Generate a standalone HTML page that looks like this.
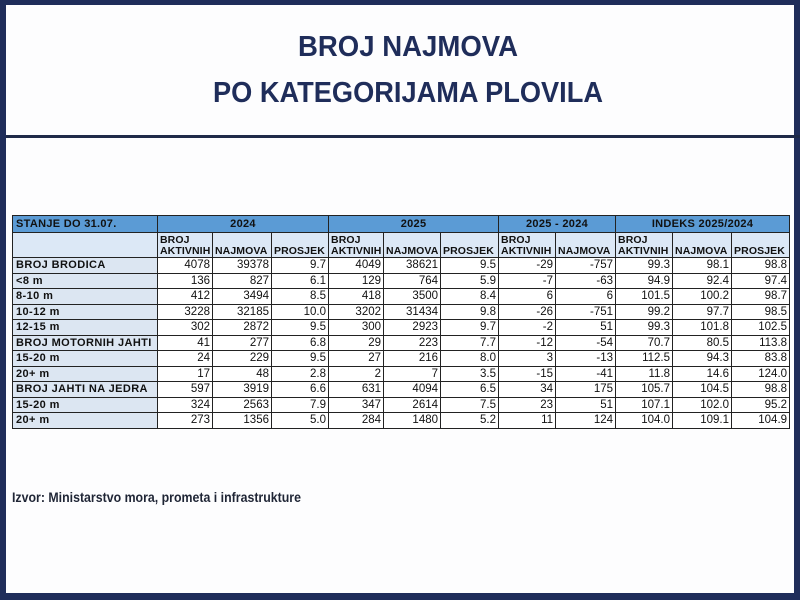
<!DOCTYPE html>
<html><head><meta charset="utf-8"><style>
html,body{margin:0;padding:0;width:800px;height:600px;overflow:hidden;background:#1f2d5a;}
#pg{position:absolute;left:6px;top:5px;width:788px;height:588px;background:#fdfdfe;}
#line{position:absolute;left:6px;top:135px;width:794px;height:3px;background:#1f2a48;}
svg{position:absolute;left:0;top:0}
table{position:absolute;left:12px;top:215px;width:777px;border-collapse:collapse;table-layout:fixed;font-family:"Liberation Sans",Arial,sans-serif;font-size:11.5px;color:#111;}
td{border:1px solid #222;padding:0 2px;white-space:nowrap;overflow:hidden;text-align:right;line-height:12px}
tr.h td{background:#5b9bd5;font-weight:bold;text-align:center;height:16px;font-size:11px;letter-spacing:0.3px}
tr.h td.l{text-align:left;padding-left:3px}
tr.s td{background:#dce8f6;font-weight:bold;text-align:left;vertical-align:bottom;font-size:10.5px;line-height:11px;height:24px;letter-spacing:0.1px}
tr.d td{height:14.5px;background:#fff}
tr.d td:first-child{background:#dce6f2;text-align:left;font-weight:bold;font-size:11px;letter-spacing:0.4px;padding-left:3px}
</style></head><body>
<div id="pg"></div>
<div id="line"></div>
<svg width="800" height="600">
<text x="408" y="56" text-anchor="middle" font-family="Liberation Sans" font-weight="bold" font-size="29" fill="#1f2d5a" textLength="220" lengthAdjust="spacingAndGlyphs">BROJ NAJMOVA</text>
<text x="408" y="102" text-anchor="middle" font-family="Liberation Sans" font-weight="bold" font-size="29" fill="#1f2d5a" textLength="390" lengthAdjust="spacingAndGlyphs">PO KATEGORIJAMA PLOVILA</text>
<text x="12" y="502" font-family="Liberation Sans" font-weight="bold" font-size="14" fill="#1f2535" textLength="289" lengthAdjust="spacingAndGlyphs">Izvor: Ministarstvo mora, prometa i infrastrukture</text>
</svg>
<table>
<colgroup><col style="width:145px"><col style="width:55px"><col style="width:59px"><col style="width:57px"><col style="width:55px"><col style="width:57px"><col style="width:58px"><col style="width:57px"><col style="width:60px"><col style="width:57px"><col style="width:59px"><col style="width:58px"></colgroup>
<tr class="h"><td class="l">STANJE DO 31.07.</td><td colspan="3">2024</td><td colspan="3">2025</td><td colspan="2">2025 - 2024</td><td colspan="3">INDEKS 2025/2024</td></tr>
<tr class="s"><td></td><td>BROJ<br>AKTIVNIH</td><td>NAJMOVA</td><td>PROSJEK</td><td>BROJ<br>AKTIVNIH</td><td>NAJMOVA</td><td>PROSJEK</td><td>BROJ<br>AKTIVNIH</td><td>NAJMOVA</td><td>BROJ<br>AKTIVNIH</td><td>NAJMOVA</td><td>PROSJEK</td></tr>
<tr class="d"><td>BROJ BRODICA</td><td>4078</td><td>39378</td><td>9.7</td><td>4049</td><td>38621</td><td>9.5</td><td>-29</td><td>-757</td><td>99.3</td><td>98.1</td><td>98.8</td></tr>
<tr class="d"><td>&lt;8 m</td><td>136</td><td>827</td><td>6.1</td><td>129</td><td>764</td><td>5.9</td><td>-7</td><td>-63</td><td>94.9</td><td>92.4</td><td>97.4</td></tr>
<tr class="d"><td>8-10 m</td><td>412</td><td>3494</td><td>8.5</td><td>418</td><td>3500</td><td>8.4</td><td>6</td><td>6</td><td>101.5</td><td>100.2</td><td>98.7</td></tr>
<tr class="d"><td>10-12 m</td><td>3228</td><td>32185</td><td>10.0</td><td>3202</td><td>31434</td><td>9.8</td><td>-26</td><td>-751</td><td>99.2</td><td>97.7</td><td>98.5</td></tr>
<tr class="d"><td>12-15 m</td><td>302</td><td>2872</td><td>9.5</td><td>300</td><td>2923</td><td>9.7</td><td>-2</td><td>51</td><td>99.3</td><td>101.8</td><td>102.5</td></tr>
<tr class="d"><td>BROJ MOTORNIH JAHTI</td><td>41</td><td>277</td><td>6.8</td><td>29</td><td>223</td><td>7.7</td><td>-12</td><td>-54</td><td>70.7</td><td>80.5</td><td>113.8</td></tr>
<tr class="d"><td>15-20 m</td><td>24</td><td>229</td><td>9.5</td><td>27</td><td>216</td><td>8.0</td><td>3</td><td>-13</td><td>112.5</td><td>94.3</td><td>83.8</td></tr>
<tr class="d"><td>20+ m</td><td>17</td><td>48</td><td>2.8</td><td>2</td><td>7</td><td>3.5</td><td>-15</td><td>-41</td><td>11.8</td><td>14.6</td><td>124.0</td></tr>
<tr class="d"><td>BROJ JAHTI NA JEDRA</td><td>597</td><td>3919</td><td>6.6</td><td>631</td><td>4094</td><td>6.5</td><td>34</td><td>175</td><td>105.7</td><td>104.5</td><td>98.8</td></tr>
<tr class="d"><td>15-20 m</td><td>324</td><td>2563</td><td>7.9</td><td>347</td><td>2614</td><td>7.5</td><td>23</td><td>51</td><td>107.1</td><td>102.0</td><td>95.2</td></tr>
<tr class="d"><td>20+ m</td><td>273</td><td>1356</td><td>5.0</td><td>284</td><td>1480</td><td>5.2</td><td>11</td><td>124</td><td>104.0</td><td>109.1</td><td>104.9</td></tr>
</table>
</body></html>
